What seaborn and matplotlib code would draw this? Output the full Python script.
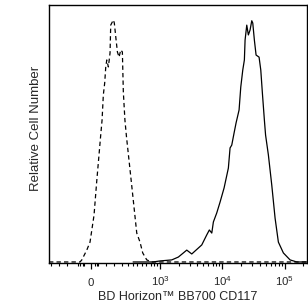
import numpy as np
import pandas as pd
import matplotlib
matplotlib.use("Agg")
import matplotlib.pyplot as plt
import seaborn as sns
from matplotlib.ticker import FixedLocator, NullFormatter

# ---- data ----
iso_x = [-356, -66, -55, -25, -6, 17.5, 33, 57, 66, 74, 83, 90, 97, 108, 120, 125,
         145, 153, 165, 179, 194, 210, 226, 236, 253, 271, 336, 412, 468, 520, 607,
         733, 228000]
iso_y = [0.4, 0.4, 1.2, 5.0, 8.1, 18.6, 31.4, 49.2, 55.4, 65.1, 69.8, 76.0, 78.7,
         76.0, 81.4, 92.2, 94.2, 93.0, 87.6, 81.8, 79.8, 82.6, 81.8, 66.3, 55.4,
         48.8, 30.2, 11.6, 8.1, 3.9, 1.2, 0.4, 0.4]

cd117_x = [356, 771, 1002, 1548, 1975, 2378, 2697, 3245, 4693, 5645, 6210, 6794,
           7205, 8160, 9220, 10700, 12530, 13340, 14200, 15470, 16650, 18600, 19800,
           21320, 22620, 23210, 24700, 26200, 27900, 29710, 30830, 32710, 34830,
           38900, 41430, 43950, 47320, 49450, 54830, 62140, 70220, 79290, 95370,
           122100, 156300, 228000]
cd117_y = [0.4, 0.4, 0.8, 1.2, 2.3, 3.9, 5.0, 3.5, 7.0, 10.9, 12.8, 11.6, 15.9,
           19.4, 23.6, 29.1, 36.8, 44.6, 45.7, 50.4, 54.3, 59.3, 68.2, 74.8, 78.7,
           86.4, 92.2, 88.4, 90.3, 93.9, 93.0, 86.4, 80.6, 79.8, 74.8, 65.9, 55.4,
           49.6, 41.9, 30.2, 17.4, 8.1, 3.9, 1.2, 0.4, 0.4]

major_ticks = [0, 1e3, 1e4, 1e5]
major_labels = ["0", r"$\mathdefault{10^{3}}$", r"$\mathdefault{10^{4}}$", r"$\mathdefault{10^{5}}$"]
minor_ticks = [-330, -235, -160, -80, -65, -50, -40, 25, 33, 41, 92, 151, 223, 289,
               356, 416, 500, 600, 700, 800, 900,
               2000, 3000, 4000, 5000, 6000, 7000, 8000, 9000,
               20000, 30000, 40000, 50000, 60000, 70000, 80000, 90000, 200000]
x_label = "BD Horizon™ BB700 CD117"
y_label = "Relative Cell Number"

# ---- style ----
sns.set_style("ticks")
plt.rcParams["font.family"] = ["Liberation Sans", "DejaVu Sans"]
plt.rcParams["mathtext.fontset"] = "custom"
plt.rcParams["mathtext.rm"] = "Liberation Sans"
plt.rcParams["mathtext.it"] = "Liberation Sans:italic"
plt.rcParams["mathtext.bf"] = "Liberation Sans:bold"

W, H = 308, 306
fig = plt.figure(figsize=(W / 100, H / 100), dpi=100)
L, R, T, B = 49, 307, 5, 263
ax = fig.add_axes([L / W, (H - B) / H, (R - L) / W, (B - T) / H])

iso_df = pd.DataFrame({"x": iso_x, "y": iso_y})
cd_df = pd.DataFrame({"x": cd117_x, "y": cd117_y})

sns.lineplot(data=iso_df, x="x", y="y", ax=ax, color="black", lw=0.9,
             estimator=None, sort=False, linestyle=(0, (3.5, 2.5)))
sns.lineplot(data=cd_df, x="x", y="y", ax=ax, color="black", lw=0.9,
             estimator=None, sort=False)

C = 158.0
ax.set_xscale("function", functions=(lambda v: np.arcsinh(np.asarray(v) / C),
                                     lambda u: C * np.sinh(np.asarray(u))))
ax.set_xlim(-356, 228000)
ax.set_ylim(0, 100)

ax.xaxis.set_major_locator(FixedLocator(major_ticks))
ax.set_xticklabels(major_labels)
ax.xaxis.set_minor_locator(FixedLocator(minor_ticks))
ax.xaxis.set_minor_formatter(NullFormatter())
ax.set_yticks([])

ax.tick_params(axis="x", which="major", direction="out", length=4.5, width=0.9,
               labelsize=8.2, pad=12.3, color="black")
ax.tick_params(axis="x", which="minor", direction="out", length=2.5, width=0.8,
               color="black")
for t in ax.get_xticklabels():
    t.set_verticalalignment("baseline")

for s in ax.spines.values():
    s.set_visible(True)
    s.set_linewidth(1.0)
    s.set_color("black")

ax.set_xlabel(x_label, fontsize=9, va="baseline")
ax.xaxis.set_label_coords(0.5, (B - 300) / (B - T))
ax.set_ylabel(y_label, fontsize=9.5)
ax.yaxis.set_label_coords((42 - L) / (R - L), (B - 128) / (B - T))

fig.savefig("out.png", dpi=100)
